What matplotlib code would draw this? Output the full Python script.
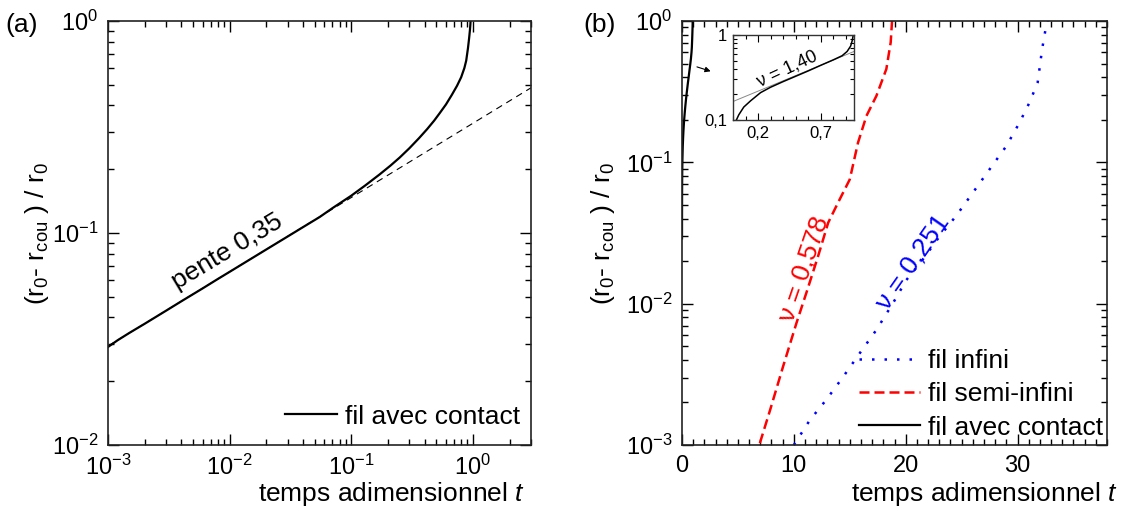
import numpy as np
import matplotlib
matplotlib.use('Agg')
import matplotlib.pyplot as plt
from matplotlib.ticker import LogLocator, MultipleLocator, NullFormatter, FixedLocator

plt.rcParams['font.family'] = ['Liberation Sans', 'DejaVu Sans']
plt.rcParams['mathtext.fontset'] = 'custom'
plt.rcParams['mathtext.rm'] = 'Liberation Sans'
plt.rcParams['mathtext.it'] = 'Liberation Sans:italic'
plt.rcParams['mathtext.default'] = 'regular'
plt.rcParams['axes.unicode_minus'] = False

# fil avec contact (panels a and b)
t_contact = [0.001, 0.0012, 0.0015, 0.002, 0.003, 0.004, 0.006, 0.008, 0.01, 0.015,
             0.02, 0.03, 0.04, 0.055, 0.07, 0.1, 0.13, 0.17, 0.21, 0.25, 0.3, 0.36,
             0.42, 0.48, 0.53, 0.6, 0.67, 0.74, 0.8, 0.85, 0.88, 0.91, 0.93, 0.945,
             0.952, 0.956]
r_contact = [0.0290, 0.0312, 0.0338, 0.0373, 0.0430, 0.0476, 0.0548, 0.0607, 0.0656,
             0.0756, 0.0836, 0.0963, 0.1065, 0.119, 0.131, 0.150, 0.1675, 0.1885, 0.208,
             0.227, 0.251, 0.280, 0.309, 0.339, 0.366, 0.404, 0.448, 0.495, 0.543, 0.60,
             0.65, 0.745, 0.83, 0.91, 0.96, 1.0]
# pente 0,35 reference line (endpoints)
t_fit = [0.001, 3.0]
r_fit = [0.0293, 0.484]

# fil semi-infini
t_semi = [6.96, 7.86, 9.05, 10.24, 11.13, 12.17, 13.07, 13.96, 15.0, 15.74, 16.49,
          17.38, 18.27, 18.66, 18.78]
r_semi = [0.00103, 0.00175, 0.00362, 0.00732, 0.0120, 0.0217, 0.0374, 0.052, 0.0757,
          0.138, 0.213, 0.295, 0.457, 0.706, 1.0]

# fil infini
t_inf = [10.0, 11.43, 12.92, 14.4, 15.89, 17.38, 18.87, 20.06, 21.5, 23.04, 24.5, 26.0,
         27.5, 28.99, 30.18, 31.07, 31.8, 32.2, 32.56, 32.7]
r_inf = [0.00100, 0.00150, 0.00210, 0.00303, 0.00446, 0.00652, 0.0101, 0.0147, 0.0204,
         0.0300, 0.0417, 0.0609, 0.0892, 0.130, 0.191, 0.265, 0.367, 0.633, 0.926, 1.0]

# inset
t_ins = [0.027, 0.046, 0.086, 0.14, 0.22, 0.3, 0.4, 0.5, 0.6, 0.7, 0.8, 0.87, 0.91,
         0.938, 0.951, 0.959]
r_ins = [0.100, 0.115, 0.142, 0.168, 0.21, 0.243, 0.283, 0.327, 0.378, 0.44, 0.51, 0.57,
         0.64, 0.74, 0.86, 1.0]
t_ins_fit = [0.0, 0.965]
r_ins_fit = [0.165, 0.64]

FS = 19
TS = 17
ylab = '(r$_0$- r$_{cou}$ ) / r$_0$'
xlab = 'temps adimensionnel $\\it{t}$'

fig = plt.figure(figsize=(11.4, 5.14), dpi=100)
axa = fig.add_axes([108/1140, 1-445/514, 423/1140, 424/514])
axb = fig.add_axes([682/1140, 1-445/514, 425/1140, 424/514])


def style(ax):
    for s in ax.spines.values():
        s.set_linewidth(1.2)
        s.set_color('#222222')
    ax.tick_params(which='both', direction='in', top=True, right=True, labelsize=TS, pad=7)
    ax.tick_params(which='major', length=8, width=1)
    ax.tick_params(which='minor', length=4, width=1)


# panel a
axa.plot(t_fit, r_fit, color='k', lw=0.8, dashes=(6, 4.5))
axa.plot(t_contact, r_contact, color='k', lw=1.6, label='fil avec contact')
axa.set_xscale('log')
axa.set_yscale('log')
axa.set_xlim(1e-3, 3)
axa.set_ylim(1e-2, 1)
axa.xaxis.set_major_locator(LogLocator(base=10, numticks=10))
axa.xaxis.set_minor_locator(LogLocator(base=10, subs=np.arange(2, 10), numticks=20))
axa.xaxis.set_minor_formatter(NullFormatter())
axa.yaxis.set_minor_formatter(NullFormatter())
style(axa)
axa.set_ylabel(ylab, fontsize=FS)
axa.yaxis.set_label_coords(-0.135, 0.5)
axa.set_xlabel(xlab, fontsize=FS, ha='right')
axa.xaxis.set_label_coords(0.985, -0.083)
axa.text(0.0095, 0.082, 'pente 0,35', fontsize=FS, rotation=31, ha='center', va='center')
axa.legend(loc='lower right', bbox_to_anchor=(1.0, 0.014), frameon=False, fontsize=FS,
           handlelength=2.0, handletextpad=0.3, borderaxespad=0.0)
fig.text(5/1140, 1-25/514, '(a)', fontsize=FS, va='center')

# panel b
axb.plot(t_inf, r_inf, color='blue', lw=1.8, dashes=(1, 4), label='fil infini')
axb.plot(t_semi, r_semi, color='red', lw=1.8, dashes=(4, 2), label='fil semi-infini')
axb.plot(t_contact, r_contact, color='k', lw=1.6, label='fil avec contact')
axb.set_yscale('log')
axb.set_xlim(0, 38)
axb.set_ylim(1e-3, 1)
axb.xaxis.set_major_locator(FixedLocator([0, 10, 20, 30]))
axb.xaxis.set_minor_locator(MultipleLocator(1))
axb.yaxis.set_minor_formatter(NullFormatter())
style(axb)
axb.set_ylabel(ylab, fontsize=FS)
axb.yaxis.set_label_coords(-0.152, 0.5)
axb.set_xlabel(xlab, fontsize=FS, ha='right')
axb.xaxis.set_label_coords(1.026, -0.083)
axb.text(10.9, 0.0175, 'ν = 0,578', fontsize=FS, color='red', rotation=71,
         ha='center', va='center')
axb.text(20.6, 0.0198, 'ν = 0,251', fontsize=FS, color='blue', rotation=55,
         ha='center', va='center')
axb.legend(loc='lower right', bbox_to_anchor=(1.015, -0.012), frameon=False, fontsize=FS,
           handlelength=2.3, handletextpad=0.3, labelspacing=0.35, borderaxespad=0.0)
axb.annotate('', xy=(2.8, 0.435), xytext=(1.1, 0.48),
             arrowprops=dict(arrowstyle='-|>', color='k', lw=0.8, mutation_scale=8))
fig.text(583/1140, 1-25/514, '(b)', fontsize=FS, va='center')

# inset
axi = fig.add_axes([733/1140, 1-120/514, 121/1140, 85/514])
axi.plot(t_ins_fit, r_ins_fit, color='#888888', lw=0.7)
axi.plot(t_ins, r_ins, color='k', lw=1.1)
axi.set_yscale('log')
axi.set_xlim(0, 0.965)
axi.set_ylim(0.1, 1)
axi.set_xticks([0.2, 0.7], ['0,2', '0,7'])
axi.xaxis.set_minor_locator(MultipleLocator(0.1))
axi.set_yticks([0.1, 1], ['0,1', '1'])
axi.yaxis.set_minor_formatter(NullFormatter())
for s in axi.spines.values():
    s.set_linewidth(1.0)
    s.set_color('#333333')
axi.tick_params(which='both', direction='in', top=True, right=True, labelsize=12, pad=4)
axi.tick_params(which='major', length=5, width=0.8)
axi.tick_params(which='minor', length=3, width=0.8)
axi.text(0.43, 0.40, 'ν = 1,40', fontsize=13, rotation=25, ha='center', va='center')

fig.savefig('out.png', dpi=100)
